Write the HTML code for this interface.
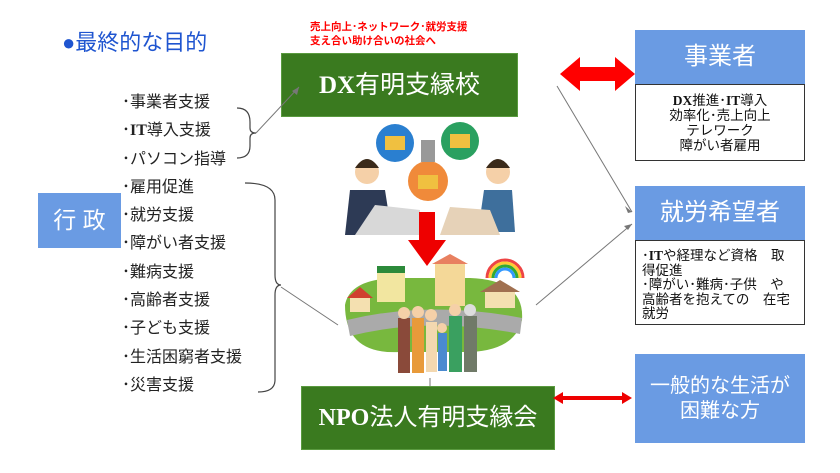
<!DOCTYPE html>
<html><head><meta charset="utf-8"><style>
body{margin:0;width:840px;height:473px;background:#fff;position:relative;overflow:hidden;font-family:"Liberation Sans","Noto Sans CJK JP",sans-serif}
.a{position:absolute}
.blue{background:#6a9be3;color:#fff;text-align:center}
.green{background:#3a7a1f;color:#fff;text-align:center;border:1px solid #5a9a3f;box-sizing:border-box}
.wb{background:#fff;border:1px solid #333;box-sizing:border-box;color:#111}
.li{font-size:16px;color:#222;line-height:28.3px}
b{font-family:"Liberation Serif","Noto Serif CJK SC",serif;font-weight:900}
</style></head><body>
<div class="a" style="left:62px;top:25px;font-size:22px;color:#1f55d0">●最終的な目的</div>
<div class="a" style="left:310px;top:20px;font-size:10.5px;line-height:14px;color:#f00;font-weight:bold">売上向上･ネットワーク･就労支援<br>支え合い助け合いの社会へ</div>
<div class="a green" style="left:281px;top:53px;width:237px;height:64px;line-height:62px;font-size:25px"><b>DX</b>有明支縁校</div>
<div class="a green" style="left:301px;top:386px;width:254px;height:64px;line-height:62px;font-size:24px"><b>NPO</b>法人有明支縁会</div>

<div class="a blue" style="left:635px;top:30px;width:170px;height:54px;line-height:54px;font-size:24px">事業者</div>
<div class="a wb" style="left:635px;top:84px;width:170px;height:77px;font-size:13.5px;line-height:15px;text-align:center;padding-top:8px"><b>DX</b>推進･<b>IT</b>導入<br>効率化･売上向上<br>テレワーク<br>障がい者雇用</div>
<div class="a blue" style="left:635px;top:186px;width:170px;height:54px;line-height:54px;font-size:24px">就労希望者</div>
<div class="a wb" style="left:635px;top:240px;width:170px;height:85px;font-size:13.5px;line-height:14.5px;padding:8px 4px 0 6px">･<b>IT</b>や経理など資格　取<br>得促進<br>･障がい･難病･子供　や<br>高齢者を抱えての　在宅<br>就労</div>
<div class="a blue" style="left:635px;top:354px;width:170px;height:89px;font-size:20px;line-height:25px;padding-top:20px;box-sizing:border-box">一般的な生活が<br>困難な方</div>

<div class="a blue" style="left:38px;top:193px;width:83px;height:55px;line-height:55px;font-size:23px">行 政</div>
<div class="a li" style="left:122px;top:89px">･事業者支援<br>･<b>IT</b>導入支援<br>･パソコン指導<br>･雇用促進<br>･就労支援<br>･障がい者支援<br>･難病支援<br>･高齢者支援<br>･子ども支援<br>･生活困窮者支援<br>･災害支援</div>

<svg class="a" style="left:0;top:0" width="840" height="473">
<g fill="none" stroke="#444" stroke-width="1.2">
<path d="M237,108 Q250,108 250,122 L250,128 Q250,133 256,133 Q250,133 250,138 L250,146 Q250,158 237,158"/>
<path d="M245,183 Q275,183 275,200 L275,275 Q275,285 281,285 Q275,285 275,295 L275,380 Q275,392 258,392"/>
</g>
<g stroke="#777" stroke-width="1" fill="none">
<line x1="256" y1="133" x2="299" y2="87"/>
<line x1="557" y1="86" x2="632" y2="212"/>
<line x1="536" y1="305" x2="632" y2="224"/>
<line x1="281" y1="287" x2="338" y2="325"/>
<line x1="430" y1="378" x2="430" y2="386"/>
</g>
<polygon points="299,87 292,91 297,95" fill="#777"/>
<polygon points="632,212 625,206 628,213" fill="#777"/>
<polygon points="632,224 624,226 628,230" fill="#777"/>
<polygon points="560,74 580,57 580,67 615,67 615,57 635,74 615,91 615,81 580,81 580,91" fill="#f00"/>
<polygon points="553,398 563,392 563,396 622,396 622,392 632,398 622,404 622,400 563,400 563,404" fill="#e00"/>
<circle cx="395" cy="143" r="19" fill="#2a7fd0"/><rect x="385" y="136" width="20" height="14" fill="#f0c040"/>
<circle cx="460" cy="141" r="19" fill="#2aa060"/><rect x="450" y="134" width="20" height="14" fill="#f0c040"/>
<circle cx="428" cy="181" r="20" fill="#f08a3a"/><rect x="418" y="175" width="20" height="14" fill="#f0c040"/>
<rect x="421" y="140" width="14" height="22" fill="#999"/>
<circle cx="367" cy="172" r="12" fill="#f5d0a8"/><path d="M355,168 Q367,150 379,168" fill="#3a2a1a"/>
<path d="M345,235 L350,190 L385,190 L392,235Z" fill="#2d3a55"/>
<path d="M355,235 L375,205 L420,210 L420,235Z" fill="#d8d8d8"/>
<circle cx="498" cy="172" r="12" fill="#f5d0a8"/><path d="M486,168 Q498,150 510,168" fill="#3a2a1a"/>
<path d="M478,232 L484,190 L512,190 L515,232Z" fill="#3e6f9c"/>
<path d="M440,235 L450,207 L490,210 L500,235Z" fill="#e6d2b8"/>
<polygon points="419,212 435,212 435,240 446,240 427,266 408,240 419,240" fill="#e00"/>
<path d="M345,305 Q350,278 400,278 L470,278 Q525,280 522,320 Q515,350 470,352 L400,352 Q345,355 345,305Z" fill="#78b83e"/>
<path d="M347,320 Q430,300 522,318 L520,334 Q430,316 350,336Z" fill="#aaa"/>
<rect x="377" y="272" width="28" height="30" fill="#f2e6a0"/><rect x="377" y="266" width="28" height="7" fill="#2c8a3a"/>
<rect x="435" y="262" width="30" height="44" fill="#f4d898"/><polygon points="432,264 450,254 468,264" fill="#e88060"/>
<rect x="350" y="296" width="20" height="16" fill="#f4e0b0"/><polygon points="347,298 360,287 373,298" fill="#d04030"/>
<rect x="485" y="290" width="30" height="18" fill="#f4e0b0"/><polygon points="480,292 500,280 520,292" fill="#a07050"/>
<path d="M487,278 A18,18 0 0 1 523,278" fill="none" stroke="#e44" stroke-width="3"/>
<path d="M490,278 A15,15 0 0 1 520,278" fill="none" stroke="#fc3" stroke-width="3"/>
<path d="M493,278 A12,12 0 0 1 517,278" fill="none" stroke="#3a3" stroke-width="3"/>
<path d="M496,278 A9,9 0 0 1 514,278" fill="none" stroke="#39f" stroke-width="3"/>
<rect x="398" y="318" width="12" height="55" fill="#8a4a3a"/><circle cx="404" cy="313" r="6" fill="#f5d0a8"/>
<rect x="412" y="318" width="12" height="55" fill="#e89a3a"/><circle cx="418" cy="312" r="6" fill="#f5d0a8"/>
<rect x="426" y="322" width="11" height="50" fill="#f3d8b0"/><circle cx="431" cy="315" r="6" fill="#f5d0a8"/>
<rect x="438" y="333" width="9" height="38" fill="#4a8ad0"/><circle cx="442" cy="328" r="5" fill="#f5d0a8"/>
<rect x="449" y="316" width="13" height="56" fill="#3aa060"/><circle cx="455" cy="310" r="6" fill="#f5d0a8"/>
<rect x="464" y="316" width="13" height="56" fill="#707a68"/><circle cx="470" cy="310" r="6" fill="#ddd"/>
</svg>
</body></html>
